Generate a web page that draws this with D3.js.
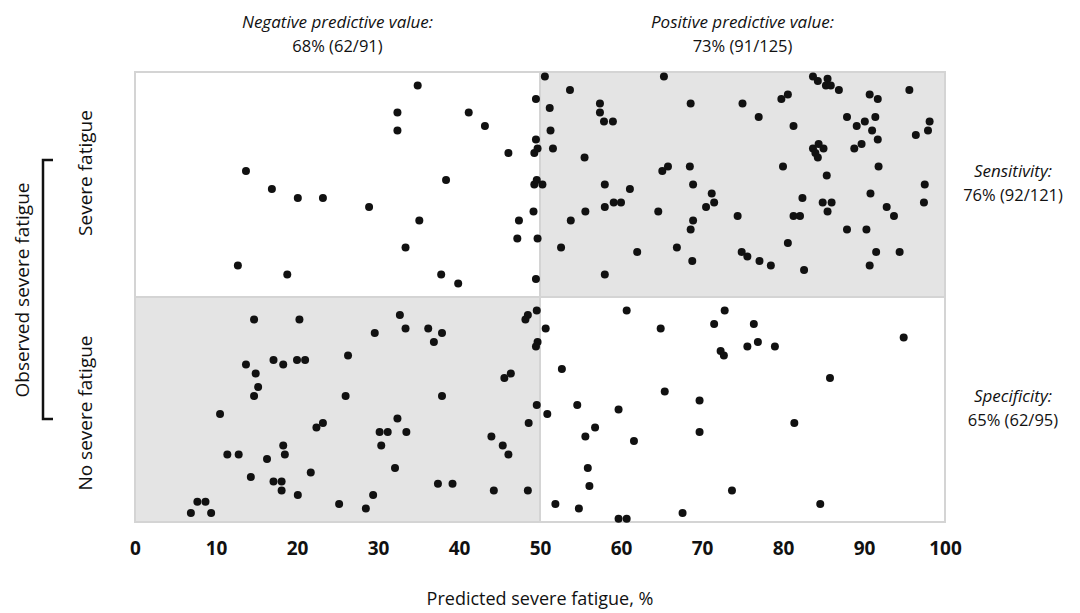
<!DOCTYPE html>
<html>
<head>
<meta charset="utf-8">
<script src="https://cdn.jsdelivr.net/npm/d3@7"></script>
<style>
  body { margin: 0; background: #fff; }
  text { font-family: "Open Sans", sans-serif; fill: #111; }
</style>
</head>
<body>
<div id="chart"></div>
<script>
var groups = ["Severe fatigue", "No severe fatigue"];
var xTicks = [0, 10, 20, 30, 40, 50, 60, 70, 80, 90, 100];
var cutoff = 50;

// [predicted %, vertical jitter within row (0 = top of row)]
var severe = [
  [13.7,0.44],[16.9,0.52],[20.1,0.56],[23.2,0.56],[12.7,0.86],[18.8,0.90],
  [34.9,0.06],[32.4,0.18],[41.2,0.18],[43.2,0.24],[32.4,0.26],[49.5,0.12],
  [49.5,0.30],[46.1,0.36],[49.3,0.36],[49.7,0.34],[38.4,0.48],[49.3,0.50],
  [49.6,0.48],[28.9,0.60],[35.1,0.66],[49.2,0.62],[47.4,0.66],[47.2,0.74],
  [49.7,0.74],[33.4,0.78],[37.8,0.90],[39.9,0.94],[49.5,0.92],
  [50.6,0.02],[65.3,0.02],[53.7,0.08],[51.2,0.16],[57.4,0.14],[68.6,0.14],
  [57.4,0.18],[57.9,0.22],[59.0,0.22],[51.3,0.26],[51.6,0.34],[55.5,0.38],
  [65.1,0.44],[65.8,0.42],[68.5,0.42],[50.3,0.50],[58.0,0.50],[68.9,0.50],
  [61.1,0.52],[71.2,0.54],[59.1,0.58],[60.0,0.58],[58.0,0.60],[71.5,0.58],
  [70.5,0.60],[55.6,0.62],[64.6,0.62],[53.8,0.66],[68.9,0.66],[68.6,0.70],
  [74.4,0.64],[52.6,0.78],[62.0,0.80],[66.9,0.78],[74.9,0.80],[68.8,0.84],
  [58.0,0.90],[75.0,0.14],[83.7,0.02],[84.3,0.04],[85.5,0.03],[85.3,0.06],
  [85.9,0.06],[86.9,0.08],[80.6,0.10],[79.8,0.12],[90.7,0.10],[91.7,0.12],
  [95.6,0.08],[77.0,0.20],[81.3,0.24],[87.9,0.20],[91.4,0.20],[90.1,0.22],
  [89.1,0.24],[91.0,0.26],[98.1,0.22],[97.9,0.26],[96.4,0.28],[91.7,0.30],
  [89.7,0.32],[88.8,0.34],[83.7,0.34],[84.4,0.32],[85.0,0.34],[84.0,0.36],
  [84.3,0.38],[80.0,0.42],[91.8,0.42],[85.4,0.46],[97.5,0.50],[90.8,0.54],
  [82.4,0.56],[84.9,0.58],[86.0,0.58],[85.5,0.62],[97.4,0.58],[92.8,0.60],
  [93.7,0.64],[81.3,0.64],[82.1,0.64],[87.9,0.70],[90.3,0.70],[80.6,0.76],
  [75.6,0.82],[77.1,0.84],[78.5,0.86],[82.6,0.88],[91.5,0.80],[94.4,0.80],
  [90.7,0.86]
];

var noSevere = [
  [14.7,0.10],[20.3,0.10],[13.7,0.30],[17.1,0.28],[18.3,0.30],[20.0,0.28],
  [21.0,0.28],[14.9,0.34],[15.2,0.40],[14.7,0.44],[10.5,0.52],[23.2,0.56],
  [22.4,0.58],[18.3,0.66],[11.4,0.70],[12.8,0.70],[18.5,0.70],[16.3,0.72],
  [21.7,0.78],[14.3,0.80],[17.1,0.82],[18.1,0.82],[18.1,0.86],[20.1,0.88],
  [7.7,0.91],[8.7,0.91],[6.9,0.96],[9.4,0.96],[25.2,0.92],
  [32.7,0.08],[33.4,0.14],[29.6,0.16],[36.2,0.14],[37.9,0.16],[36.9,0.20],
  [26.3,0.26],[49.6,0.06],[48.5,0.08],[48.2,0.10],[49.7,0.20],[49.5,0.22],
  [46.4,0.34],[45.6,0.36],[26.0,0.44],[37.9,0.44],[49.6,0.48],[32.4,0.54],
  [48.6,0.56],[30.2,0.60],[31.2,0.60],[33.5,0.60],[44.0,0.62],[30.4,0.66],
  [45.4,0.66],[46.1,0.70],[32.1,0.76],[37.4,0.83],[39.2,0.83],[44.3,0.86],
  [48.5,0.86],[29.4,0.88],[28.5,0.94],
  [60.7,0.06],[72.8,0.06],[50.7,0.14],[64.9,0.14],[71.5,0.12],[72.3,0.24],
  [72.7,0.26],[52.7,0.32],[65.4,0.42],[69.7,0.46],[50.9,0.52],[54.6,0.48],
  [59.7,0.50],[56.8,0.58],[55.6,0.62],[61.6,0.64],[69.7,0.60],[55.9,0.76],
  [56.1,0.84],[73.7,0.86],[51.9,0.92],[54.8,0.94],[59.7,0.985],[60.7,0.985],
  [67.6,0.96],[76.4,0.12],[75.6,0.22],[76.9,0.20],[79.0,0.22],[94.9,0.18],
  [85.8,0.36],[81.4,0.56],[84.6,0.92]
];

var topNotes = [
  ["Negative predictive value:", "68% (62/91)"],
  ["Positive predictive value:", "73% (91/125)"]
];
var sideNotes = [
  ["Sensitivity:", "76% (92/121)"],
  ["Specificity:", "65% (62/95)"]
];

var W = 1080, H = 613;
var mLeft = 135, mRight = 945, mTop = 72, mBottom = 522;

var svg = d3.select("#chart").append("svg")
    .attr("width", W).attr("height", H);

var x = d3.scaleLinear().domain([0, 100]).range([mLeft, mRight]);
var y = d3.scaleBand().domain(groups).range([mTop, mBottom]);

// shaded "correct" quadrants
svg.append("rect")
    .attr("x", x(cutoff)).attr("y", y(groups[0]))
    .attr("width", x(100) - x(cutoff)).attr("height", y.bandwidth())
    .attr("fill", "#e4e4e4");
svg.append("rect")
    .attr("x", x(0)).attr("y", y(groups[1]))
    .attr("width", x(cutoff) - x(0)).attr("height", y.bandwidth())
    .attr("fill", "#e4e4e4");

svg.append("rect")
    .attr("x", mLeft).attr("y", mTop)
    .attr("width", mRight - mLeft).attr("height", mBottom - mTop)
    .attr("fill", "none").attr("stroke", "#d4d4d4").attr("stroke-width", 2);
svg.append("line")
    .attr("x1", x(cutoff)).attr("x2", x(cutoff))
    .attr("y1", mTop).attr("y2", mBottom)
    .attr("stroke", "#d4d4d4").attr("stroke-width", 2);
svg.append("line")
    .attr("x1", mLeft).attr("x2", mRight)
    .attr("y1", y(groups[1])).attr("y2", y(groups[1]))
    .attr("stroke", "#d4d4d4").attr("stroke-width", 2);

function dots(data, g) {
  svg.append("g").selectAll("circle")
    .data(data)
    .join("circle")
      .attr("cx", function(d) { return x(d[0]); })
      .attr("cy", function(d) { return y(g) + d[1] * y.bandwidth(); })
      .attr("r", 4)
      .attr("fill", "#111");
}
dots(severe, groups[0]);
dots(noSevere, groups[1]);

// x axis
var xAxis = svg.append("g")
    .attr("transform", "translate(0," + mBottom + ")")
    .call(d3.axisBottom(x).tickValues(xTicks).tickSize(0).tickPadding(20));
xAxis.select(".domain").remove();
xAxis.selectAll("text")
    .style("font-family", "'Open Sans', sans-serif")
    .style("font-size", "19px")
    .style("font-weight", "bold")
    .attr("fill", "#111");

svg.append("text")
    .attr("x", (mLeft + mRight) / 2).attr("y", 605)
    .attr("text-anchor", "middle")
    .style("font-size", "18px")
    .text("Predicted severe fatigue, %");

// top annotations
topNotes.forEach(function(n, i) {
  var cx = i === 0 ? (x(0) + x(cutoff)) / 2 : (x(cutoff) + x(100)) / 2;
  svg.append("text").attr("x", cx).attr("y", 28)
      .attr("text-anchor", "middle").style("font-size", "17px")
      .style("font-style", "italic").text(n[0]);
  svg.append("text").attr("x", cx).attr("y", 52)
      .attr("text-anchor", "middle").style("font-size", "16.5px")
      .text(n[1]);
});

// right annotations
sideNotes.forEach(function(n, i) {
  var cy = i === 0 ? 177 : 402;
  svg.append("text").attr("x", 1013).attr("y", cy)
      .attr("text-anchor", "middle").style("font-size", "17px")
      .style("font-style", "italic").text(n[0]);
  svg.append("text").attr("x", 1013).attr("y", cy + 24)
      .attr("text-anchor", "middle").style("font-size", "16.5px")
      .text(n[1]);
});

// row labels
var rowCenters = [173, 413];
groups.forEach(function(gname, i) {
  svg.append("text")
      .attr("transform", "translate(92," + rowCenters[i] + ") rotate(-90)")
      .attr("text-anchor", "middle")
      .style("font-size", "19px")
      .text(gname);
});

svg.append("text")
    .attr("transform", "translate(29,290) rotate(-90)")
    .attr("text-anchor", "middle")
    .style("font-size", "19px")
    .text("Observed severe fatigue");

svg.append("path")
    .attr("d", "M53,160 H43 V419 H53")
    .attr("fill", "none").attr("stroke", "#111").attr("stroke-width", 2.5);
</script>
</body>
</html>
